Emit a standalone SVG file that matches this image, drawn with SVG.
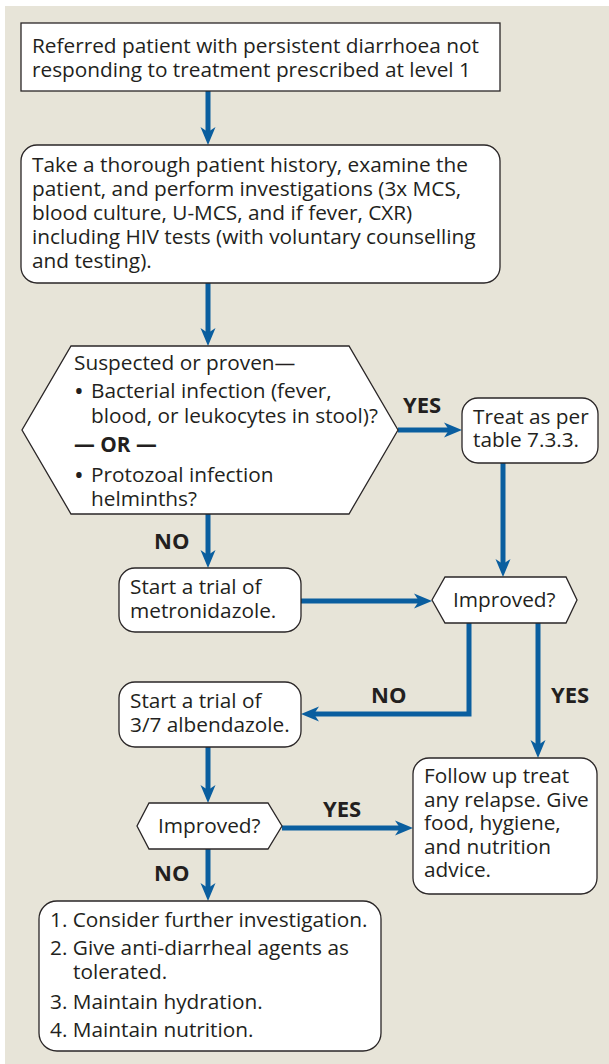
<svg xmlns="http://www.w3.org/2000/svg" width="609" height="1064" viewBox="0 0 609 1064">
<style>
.bg{fill:#e7e4d8}
.box{fill:#ffffff;stroke:#2a2627;stroke-width:1.3}
.t{font-family:"Open Sans","Liberation Sans",sans-serif;font-size:20.8px;fill:#231f20}
.bu{font-family:"Open Sans","Liberation Sans",sans-serif;font-size:26px;fill:#231f20}
.b{font-family:"Open Sans","Liberation Sans",sans-serif;font-size:22px;font-weight:bold;fill:#231f20}
.c{fill:none;stroke:#0a5e9f;stroke-width:5;stroke-linejoin:miter}
</style>
<defs>
<marker id="ah" markerUnits="userSpaceOnUse" orient="auto" refX="0" refY="0" markerWidth="30" markerHeight="30" overflow="visible">
<path d="M13,0 L-5,-7.5 L0,0 L-5,7.5 Z" fill="#0a5e9f"/>
</marker>
</defs>
<rect class="bg" x="5" y="6" width="604" height="1058"/>

<g id="connectors">
<path class="c" d="M208,91 V132" marker-end="url(#ah)"/>
<path class="c" d="M208,283 V333" marker-end="url(#ah)"/>
<path class="c" d="M398,430 H449" marker-end="url(#ah)"/>
<path class="c" d="M503,463 V564" marker-end="url(#ah)"/>
<path class="c" d="M208,514 V555" marker-end="url(#ah)"/>
<path class="c" d="M301,601 H419" marker-end="url(#ah)"/>
<path class="c" d="M469,623 V714 H314" marker-end="url(#ah)"/>
<path class="c" d="M538,623 V745" marker-end="url(#ah)"/>
<path class="c" d="M208,747 V790" marker-end="url(#ah)"/>
<path class="c" d="M282,828 H400" marker-end="url(#ah)"/>
<path class="c" d="M208,849 V888" marker-end="url(#ah)"/>
<text class="b" x="403" y="413">YES</text>
<text class="b" x="154" y="549">NO</text>
<text class="b" x="371" y="703">NO</text>
<text class="b" x="551" y="703">YES</text>
<text class="b" x="323" y="817">YES</text>
<text class="b" x="154" y="881">NO</text>
</g>

<g id="n1">
<rect class="box" x="21" y="23" width="479" height="68"/>
<text class="t" x="32" y="53">Referred patient with persistent diarrhoea not</text>
<text class="t" x="32" y="77">responding to treatment prescribed at level 1</text>
</g>

<g id="n2">
<rect class="box" x="21" y="145" width="479" height="138" rx="16"/>
<text class="t" x="32" y="172">Take a thorough patient history, examine the</text>
<text class="t" x="32" y="196">patient, and perform investigations (3x MCS,</text>
<text class="t" x="32" y="220">blood culture, U-MCS, and if fever, CXR)</text>
<text class="t" x="32" y="244">including HIV tests (with voluntary counselling</text>
<text class="t" x="32" y="268">and testing).</text>
</g>

<g id="n3">
<polygon class="box" points="71,346 349,346 398,430 349,514 71,514 22,430"/>
<text class="t" x="74" y="370">Suspected or proven—</text>
<text class="bu" x="74" y="400">•</text>
<text class="t" x="91" y="398">Bacterial infection (fever,</text>
<text class="t" x="91" y="423">blood, or leukocytes in stool)?</text>
<text class="t" x="74" y="452" font-weight="bold">— OR —</text>
<text class="bu" x="74" y="484">•</text>
<text class="t" x="91" y="482">Protozoal infection</text>
<text class="t" x="91" y="506">helminths?</text>
</g>

<g id="n4">
<rect class="box" x="462" y="398" width="136" height="65" rx="16"/>
<text class="t" x="473" y="424">Treat as per</text>
<text class="t" x="473" y="447">table 7.3.3.</text>
</g>

<g id="n5">
<rect class="box" x="119" y="568" width="182" height="64" rx="16"/>
<text class="t" x="130" y="594">Start a trial of</text>
<text class="t" x="130" y="618">metronidazole.</text>
</g>

<g id="n6">
<polygon class="box" points="445,577 566,577 577,600 566,623 445,623 432,600"/>
<text class="t" x="453" y="607">Improved?</text>
</g>

<g id="n7">
<rect class="box" x="119" y="682" width="182" height="65" rx="16"/>
<text class="t" x="130" y="708">Start a trial of</text>
<text class="t" x="130" y="732">3/7 albendazole.</text>
</g>

<g id="n8">
<rect class="box" x="413" y="758" width="184" height="136" rx="16"/>
<text class="t" x="424" y="783">Follow up treat</text>
<text class="t" x="424" y="807">any relapse. Give</text>
<text class="t" x="424" y="830">food, hygiene,</text>
<text class="t" x="424" y="854">and nutrition</text>
<text class="t" x="424" y="877">advice.</text>
</g>

<g id="n9">
<polygon class="box" points="149,803 268,803 282,826 268,849 149,849 137,826"/>
<text class="t" x="158" y="833">Improved?</text>
</g>

<g id="n10">
<rect class="box" x="39" y="901" width="342" height="150" rx="18"/>
<text class="t" x="50" y="927">1. Consider further investigation.</text>
<text class="t" x="50" y="955">2. Give anti-diarrheal agents as</text>
<text class="t" x="73" y="979">tolerated.</text>
<text class="t" x="50" y="1009">3. Maintain hydration.</text>
<text class="t" x="50" y="1037">4. Maintain nutrition.</text>
</g>
</svg>
